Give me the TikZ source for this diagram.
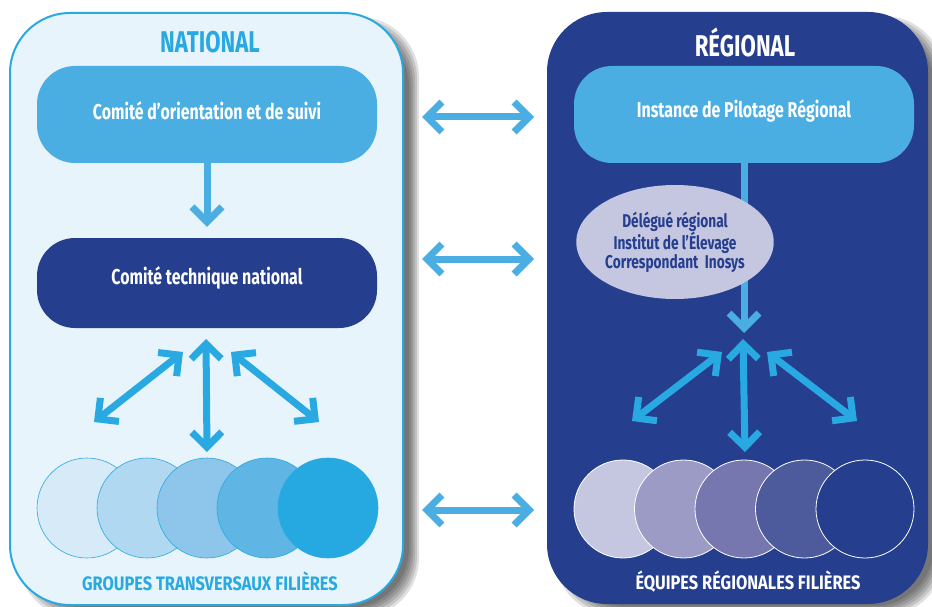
\documentclass[tikz,border=0pt]{standalone}
\usepackage{fontspec}
\setmainfont{Fira Sans}[FakeStretch=0.74]
\newfontfamily\labfont{Fira Sans}[FakeStretch=0.84]
\usetikzlibrary{arrows.meta,shapes.geometric}
\definecolor{cyanL}{HTML}{29A9E1}
\definecolor{skyB}{HTML}{4BAEE2}
\definecolor{navyB}{HTML}{253E8E}
\definecolor{paleB}{HTML}{E8F4FB}
\definecolor{lavB}{HTML}{C5C6E0}
\definecolor{lcA}{HTML}{D6EAF8}
\definecolor{lcB}{HTML}{B1D8F1}
\definecolor{lcC}{HTML}{8DC5EB}
\definecolor{lcD}{HTML}{5FB5E4}
\definecolor{lcE}{HTML}{26A9E1}
\definecolor{rcA}{HTML}{C5C6E0}
\definecolor{rcB}{HTML}{9B9BC6}
\definecolor{rcC}{HTML}{7677AF}
\definecolor{rcD}{HTML}{4D5A9C}
\definecolor{rcE}{HTML}{253E8E}
\begin{document}
\begin{tikzpicture}[x=1pt,y=-1pt,
  chev/.tip={Straight Barb[sharp,length=15pt,width=30pt]},
  link/.style={line width=7pt, draw=skyB},
  fan/.style={line width=7pt, draw=cyanL, chev-chev},
  boxtxt/.style={font=\bfseries\fontsize{21.5}{24}\selectfont, text=white},
  titletxt/.style={font=\bfseries\fontsize{30}{33}\selectfont},
  labtxt/.style={font=\labfont\bfseries\fontsize{19.5}{22}\selectfont},
  box/.style={rounded corners=38pt, minimum width=340pt, minimum height=97pt, inner sep=0pt},
  lcirc/.style={circle, minimum size=100pt, inner sep=0pt, draw=cyanL, line width=0.6pt},
  rcirc/.style={circle, minimum size=98pt, inner sep=0pt, draw=white, line width=0.8pt}
]
\useasboundingbox (0,0) rectangle (932,607);
% shadows
\foreach \e in {-6,-4,-2,0,2,4}{
  \fill[black,opacity=0.12,rounded corners=60pt] (22-\e,21-\e) rectangle (415+\e,614+\e);
  \fill[black,opacity=0.12,rounded corners=60pt] (559-\e,20-\e) rectangle (940+\e,612+\e);
}
% panels
\draw[cyanL, line width=2pt, fill=paleB, rounded corners=60pt] (10,13) rectangle (403,605);
\fill[navyB, rounded corners=60pt] (547,12) rectangle (928,604);
% titles
\node[titletxt, text=cyanL] (natT) at (210,42) {NATIONAL};
\node[titletxt, text=white] (regT) at (745,42) {RÉGIONAL};
% boxes
\node[box, fill=skyB, label={[boxtxt, yshift=4pt]center:Comité d’orientation et de suivi}] (cos) at (207,114.5) {};
\node[box, fill=navyB, minimum height=90pt, label={[boxtxt, yshift=5pt]center:Comité technique national}] (ctn) at (207,283) {};
\node[box, fill=skyB, label={[boxtxt, yshift=4pt]center:Instance de Pilotage Régional}] (ipr) at (744,114.5) {};
% connectors between levels
\coordinate (hAa) at (422,117); \coordinate (hAb) at (534,117);
\coordinate (hBa) at (422,259); \coordinate (hBb) at (534,259);
\coordinate (hCa) at (422,510); \coordinate (hCb) at (534,510);
\draw[link, chev-chev] (hAa) -- (hAb);
\draw[link, chev-chev] (hBa) -- (hBb);
\draw[link, chev-chev] (hCa) -- (hCb);
\draw[link, -chev, shorten >=11pt] (cos.south) -- (ctn.north);
\coordinate (rtip) at (744,333);
\draw[link, -chev] (ipr.south) -- (rtip);
% ellipse
\node[ellipse, fill=lavB, minimum width=188pt, minimum height=114pt, inner sep=0pt, align=center, text=navyB,
  font=\bfseries\fontsize{18.5}{18.5}\selectfont] (dlg) at (675,242) {Délégué régional\\Institut de l’Élevage\\Correspondant\ \ Inosys};
% fans
\coordinate (LOa) at (206,339); \coordinate (LOb) at (207,452);
\coordinate (LLa) at (183,352); \coordinate (LLb) at (94,422);
\coordinate (LRa) at (231,352); \coordinate (LRb) at (319,422);
\coordinate (ROa) at (743,339); \coordinate (ROb) at (745,452);
\coordinate (RLa) at (722,352); \coordinate (RLb) at (632,421);
\coordinate (RRa) at (767,352); \coordinate (RRb) at (857,421);
\draw[fan] (LOa) -- (LOb);
\draw[fan] (LLa) -- (LLb);
\draw[fan] (LRa) -- (LRb);
\draw[fan] (ROa) -- (ROb);
\draw[fan] (RLa) -- (RLb);
\draw[fan] (RRa) -- (RRb);
% circles
\node[lcirc, fill=lcA] (gA) at (87,508) {};
\node[lcirc, fill=lcB] (gB) at (147,508) {};
\node[lcirc, fill=lcC] (gC) at (207,508) {};
\node[lcirc, fill=lcD] (gD) at (267,508) {};
\node[lcirc, fill=lcE] (gE) at (328,508) {};
\node[rcirc, fill=rcA] (eA) at (623,509) {};
\node[rcirc, fill=rcB] (eB) at (683.5,509) {};
\node[rcirc, fill=rcC] (eC) at (744,509) {};
\node[rcirc, fill=rcD] (eD) at (804.5,509) {};
\node[rcirc, fill=rcE] (eE) at (865,509) {};
% labels
\node[labtxt, text=cyanL] (grpT) at (210,581) {GROUPES TRANSVERSAUX FILIÈRES};
\node[labtxt, text=white] (eqT) at (748,582) {ÉQUIPES RÉGIONALES FILIÈRES};
\end{tikzpicture}
\end{document}
